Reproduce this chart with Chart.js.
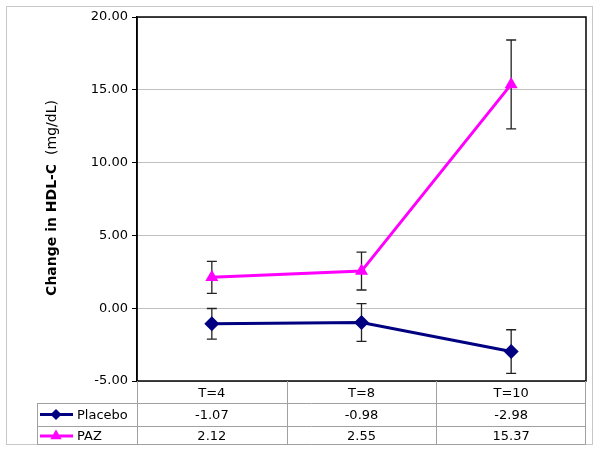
<!DOCTYPE html>
<html>
<head>
<meta charset="utf-8">
<script src="https://cdn.jsdelivr.net/npm/chart.js@4/dist/chart.umd.min.js"></script>
<style>
  html, body { margin: 0; padding: 0; background: #fff; }
  #wrap { width: 600px; height: 450px; }
</style>
</head>
<body>
<div id="wrap"><canvas id="chart" width="600" height="450"></canvas></div>
<script>
// Data
const categories = ['T=4', 'T=8', 'T=10'];
const placebo = [-1.07, -0.98, -2.98];
const paz = [2.12, 2.55, 15.37];
const placeboErr = [1.05, 1.3, 1.5];
const pazErr = [1.1, 1.3, 3.05];
const yTicks = [-5, 0, 5, 10, 15, 20];

const FONT = '"DejaVu Sans", Verdana, sans-serif';

// Error bars, drawn under the markers
const errorBars = {
    id: 'errorBars',
    beforeDatasetsDraw(chart) {
        const ctx = chart.ctx;
        const y = chart.scales.y;
        ctx.save();
        ctx.strokeStyle = '#222';
        ctx.lineWidth = 1.3;
        chart.data.datasets.forEach((ds, di) => {
            const meta = chart.getDatasetMeta(di);
            meta.data.forEach((pt, i) => {
                const v = ds.data[i];
                const e = ds.err[i];
                const top = y.getPixelForValue(v + e);
                const bot = y.getPixelForValue(v - e);
                const x = pt.x;
                ctx.beginPath();
                ctx.moveTo(x, top); ctx.lineTo(x, bot);
                ctx.moveTo(x - 5, top); ctx.lineTo(x + 5, top);
                ctx.moveTo(x - 5, bot); ctx.lineTo(x + 5, bot);
                ctx.stroke();
            });
        });
        ctx.restore();
    }
};

// Frame, axis title and data table
const frame = {
    id: 'frame',
    afterDraw(chart) {
        const ctx = chart.ctx;
        const a = chart.chartArea;
        const x = chart.scales.x;
        ctx.save();

        // outer border
        ctx.strokeStyle = '#c8c8c8';
        ctx.lineWidth = 1;
        ctx.strokeRect(6.5, 6.5, 586, 438);

        // plot border
        ctx.strokeStyle = '#000';
        ctx.lineWidth = 1.5;
        ctx.strokeRect(a.left, a.top, a.right - a.left, a.bottom - a.top);

        // y title, bold part + normal part
        ctx.translate(52, (a.top + a.bottom) / 2 - 1);
        ctx.rotate(-Math.PI / 2);
        ctx.fillStyle = '#000';
        ctx.textBaseline = 'middle';
        ctx.textAlign = 'left';
        const boldF = 'bold 14px ' + FONT;
        const normF = '14px ' + FONT;
        const t1 = 'Change in HDL-C', t2 = '  (mg/dL)';
        ctx.font = boldF;
        const w1 = ctx.measureText(t1).width;
        ctx.font = normF;
        const w2 = ctx.measureText(t2).width;
        let sx = -(w1 + w2) / 2;
        ctx.font = boldF;
        ctx.fillText(t1, sx, 0);
        ctx.font = normF;
        ctx.fillText(t2, sx + w1, 0);
        ctx.setTransform(1, 0, 0, 1, 0, 0);

        // data table
        const tLeft = 37, r1 = 403, r2 = 426, r3 = 444;
        ctx.strokeStyle = '#a0a0a0';
        ctx.lineWidth = 1;
        ctx.beginPath();
        [r1, r2, r3].forEach(r => { ctx.moveTo(tLeft, r + 0.5); ctx.lineTo(a.right, r + 0.5); });
        ctx.moveTo(tLeft + 0.5, r1); ctx.lineTo(tLeft + 0.5, r3);
        ctx.moveTo(a.left + 0.5, a.bottom); ctx.lineTo(a.left + 0.5, r3);
        ctx.moveTo(a.right - 0.5, a.bottom); ctx.lineTo(a.right - 0.5, r3);
        const step = (a.right - a.left) / categories.length;
        for (let i = 1; i < categories.length; i++) {
            const gx = Math.round(a.left + step * i) + 0.5;
            ctx.moveTo(gx, a.bottom); ctx.lineTo(gx, r3);
        }
        ctx.stroke();

        const rows = [
            { name: 'Placebo', vals: placebo, color: '#000080', style: 'rectRot', cy: (r1 + r2) / 2 + 1 },
            { name: 'PAZ', vals: paz, color: '#FF00FF', style: 'triangle', cy: (r2 + r3) / 2 + 2 }
        ];
        ctx.font = '13px ' + FONT;
        ctx.textBaseline = 'middle';
        rows.forEach(row => {
            // legend key
            ctx.strokeStyle = row.color;
            ctx.lineWidth = 3;
            ctx.beginPath();
            ctx.moveTo(40, row.cy - 1); ctx.lineTo(73, row.cy - 1);
            ctx.stroke();
            Chart.helpers.drawPoint(ctx, { pointStyle: row.style, radius: 3.5, borderWidth: 1 }, 56, row.cy - 1);
            ctx.fillStyle = row.color;
            ctx.fill();
            ctx.fillStyle = '#000';
            ctx.textAlign = 'left';
            ctx.fillText(row.name, 77, row.cy);
            ctx.textAlign = 'center';
            row.vals.forEach((v, i) => {
                ctx.fillText(v.toFixed(2), x.getPixelForValue(i), row.cy);
            });
        });
        ctx.restore();
    }
};

new Chart(document.getElementById('chart'), {
    type: 'line',
    data: {
        labels: categories,
        datasets: [
            {
                label: 'Placebo',
                data: placebo,
                err: placeboErr,
                borderColor: '#000080',
                backgroundColor: '#000080',
                borderWidth: 3,
                pointStyle: 'rectRot',
                pointRadius: 7.5,
                pointBorderWidth: 0,
                tension: 0
            },
            {
                label: 'PAZ',
                data: paz,
                err: pazErr,
                borderColor: '#FF00FF',
                backgroundColor: '#FF00FF',
                borderWidth: 3,
                pointStyle: 'triangle',
                pointRadius: 7.5,
                pointBorderWidth: 0,
                tension: 0
            }
        ]
    },
    options: {
        responsive: false,
        devicePixelRatio: 1,
        animation: false,
        layout: { padding: { top: 17, right: 14, bottom: 47, left: 0 } },
        plugins: {
            legend: { display: false },
            tooltip: { enabled: false }
        },
        scales: {
            x: {
                offset: true,
                grid: { display: false, drawTicks: false },
                border: { display: false },
                ticks: { color: '#000', font: { family: FONT, size: 13 }, padding: 5 },
                afterFit(s) { s.height = 22; }
            },
            y: {
                min: -5,
                max: 20,
                afterBuildTicks(s) { s.ticks = yTicks.map(v => ({ value: v })); },
                grid: { color: '#c0c0c0', lineWidth: 1, tickLength: 5, tickColor: '#000' },
                border: { display: true, color: '#000', width: 1.5 },
                ticks: {
                    color: '#000',
                    font: { family: FONT, size: 13 },
                    padding: 4,
                    callback: v => v.toFixed(2)
                },
                afterFit(s) { s.width = 137; }
            }
        }
    },
    plugins: [errorBars, frame]
});
</script>
</body>
</html>
